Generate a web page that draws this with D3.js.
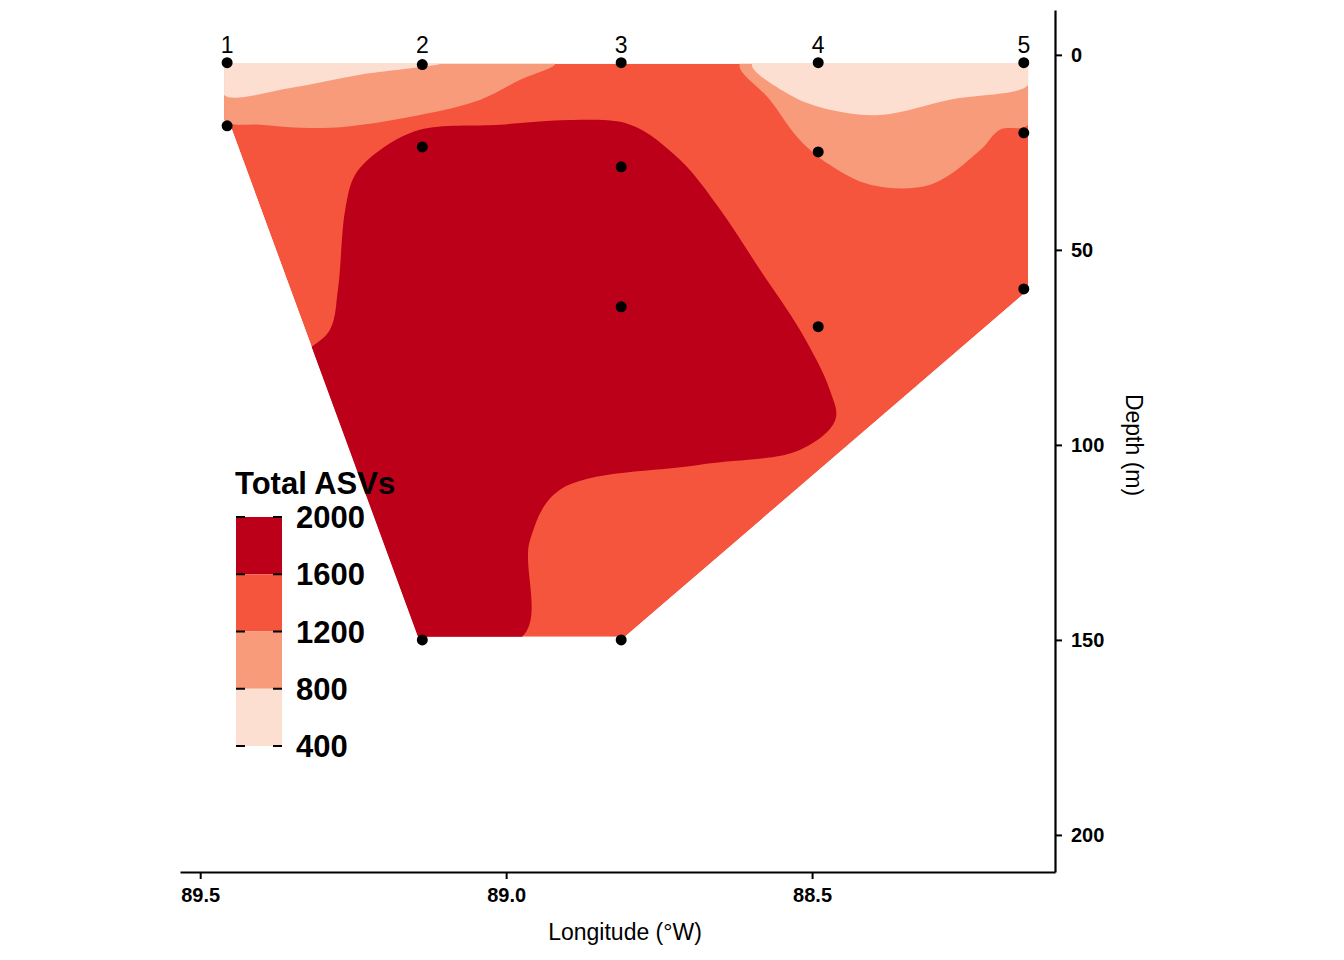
<!DOCTYPE html>
<html><head><meta charset="utf-8">
<script src="https://cdn.jsdelivr.net/npm/d3@7"></script>
<style>body{margin:0;background:#fff;font-family:"Liberation Sans",Arial,sans-serif}</style>
</head><body><svg id="c" width="1344" height="960"></svg>
<script>
// Stations: [label, longitude °W]
const stations = [["1",89.456],["2",89.137],["3",88.812],["4",88.490],["5",88.154]];
// Sample points [lon, depth]
const samples = [[89.456,2],[89.456,18.2],[89.137,2.5],[89.137,23.6],[89.137,150],
 [88.812,2],[88.812,28.7],[88.812,64.6],[88.812,150],[88.490,2],[88.490,24.9],[88.490,69.7],
 [88.154,2],[88.154,20],[88.154,60]];
// Interpolated domain hull (1200-1600 band fills it)
const hull = [[89.461,2.3],[88.147,2.3],[88.147,60.3],[88.806,149.2],[89.144,149.2],[89.451,17.9],[89.461,16.7]];
// 400-800 bands
const light1 = [[89.461,2.3],[89.108,2.3],[89.124,2.8],[89.239,5.1],[89.353,8.5],[89.461,10.3]];
const light2 = [[88.598,2.3],[88.536,10.3],[88.471,14.1],[88.389,15.4],[88.275,11.5],[88.147,7.7],[88.147,2.3]];
// 800-1200 bands
const mid1 = [[89.461,2.3],[88.920,2.3],[88.977,6.4],[89.042,11.5],[89.141,15.4],[89.288,18.7],[89.402,17.9],[89.461,16.7]];
const mid2 = [[88.618,2.3],[88.569,11.5],[88.520,21.8],[88.471,28.2],[88.405,33.3],[88.307,33.3],[88.225,24.4],[88.193,19.2],[88.147,17.9],[88.147,2.3]];
// 1600-2000 region
const dark = [[89.206,24.4],[89.141,19.2],[89.010,17.9],[88.895,16.7],[88.797,17.9],[88.716,26.9],[88.650,39.7],[88.585,55.1],[88.520,70.5],[88.471,85.9],[88.462,93.6],[88.520,101.3],[88.683,105.1],[88.912,111.5],[88.961,124.4],[88.974,149.2],[89.35,149.2],[89.35,80.8],[89.288,70.5],[89.275,60.3],[89.263,39.7],[89.247,30.8]];
const legendBreaks = [2000,1600,1200,800,400];
const colors = ["#BD0019","#F6553D","#F89B7B","#FDDFD1"];
const xTicks = [89.5,89.0,88.5], yTicks = [0,50,100,150,200];

const svg = d3.select("#c");
const x = d3.scaleLinear().domain([89.533,88.103]).range([180,1055]);
const y = d3.scaleLinear().domain([-11.5,209.5]).range([10,872]);
const poly = d3.line().x(d=>x(d[0])).y(d=>y(d[1]));
const smooth = d3.line().x(d=>x(d[0])).y(d=>y(d[1])).curve(d3.curveCatmullRomClosed);

svg.append("clipPath").attr("id","hc").append("path").attr("d",poly(hull)+"Z");
const g = svg.append("g").attr("clip-path","url(#hc)");
g.append("path").attr("d",poly(hull)+"Z").attr("fill",colors[1]);
g.append("path").attr("d",smooth(dark)).attr("fill",colors[0]);
[mid1,mid2].forEach(p=>g.append("path").attr("d",smooth(p)).attr("fill",colors[2]));
[light1,light2].forEach(p=>g.append("path").attr("d",smooth(p)).attr("fill",colors[3]));

svg.selectAll("circle").data(samples).join("circle")
 .attr("cx",d=>x(d[0])).attr("cy",d=>y(d[1])).attr("r",5.5).attr("fill","#000");
svg.selectAll("text.st").data(stations).join("text").attr("class","st")
 .attr("x",d=>x(d[1])).attr("y",53).attr("text-anchor","middle").attr("font-size",23).text(d=>d[0]);

// axes
const xa = svg.append("g").attr("transform","translate(0,872)").call(d3.axisBottom(x).tickValues(xTicks).tickFormat(d3.format(".1f")).tickSize(7).tickSizeOuter(0));
const ya = svg.append("g").attr("transform","translate(1055,0)").call(d3.axisRight(y).tickValues(yTicks).tickSize(7).tickSizeOuter(0));
[xa,ya].forEach(a=>{a.select(".domain").attr("stroke-width",2.2);a.selectAll(".tick line").attr("stroke-width",2);
 a.selectAll("text").attr("font-size",20).attr("font-weight","bold").attr("fill","#000").attr("font-family","Liberation Sans, Arial");});
xa.selectAll("text").attr("dy","1em");
ya.selectAll("text").attr("dx","0.3em");
svg.append("text").attr("x",625).attr("y",940).attr("text-anchor","middle").attr("font-size",23).text("Longitude (°W)");
svg.append("text").attr("transform","translate(1126,445) rotate(90)").attr("text-anchor","middle").attr("font-size",23).text("Depth (m)");

// legend
const ly = d3.scaleLinear().domain([2000,400]).range([517,746]);
svg.append("text").attr("x",235).attr("y",494).attr("font-size",31).attr("font-weight","bold").text("Total ASVs");
colors.forEach((c,i)=>svg.append("rect").attr("x",236).attr("y",ly(legendBreaks[i])).attr("width",46)
 .attr("height",ly(legendBreaks[i+1])-ly(legendBreaks[i])).attr("fill",c));
legendBreaks.forEach(b=>{
 svg.append("line").attr("x1",236).attr("x2",245).attr("y1",ly(b)).attr("y2",ly(b)).attr("stroke","#000").attr("stroke-width",2);
 svg.append("line").attr("x1",273).attr("x2",282).attr("y1",ly(b)).attr("y2",ly(b)).attr("stroke","#000").attr("stroke-width",2);
 svg.append("text").attr("x",296).attr("y",ly(b)+11).attr("font-size",31).attr("font-weight","bold").text(b);
});
</script></body></html>
